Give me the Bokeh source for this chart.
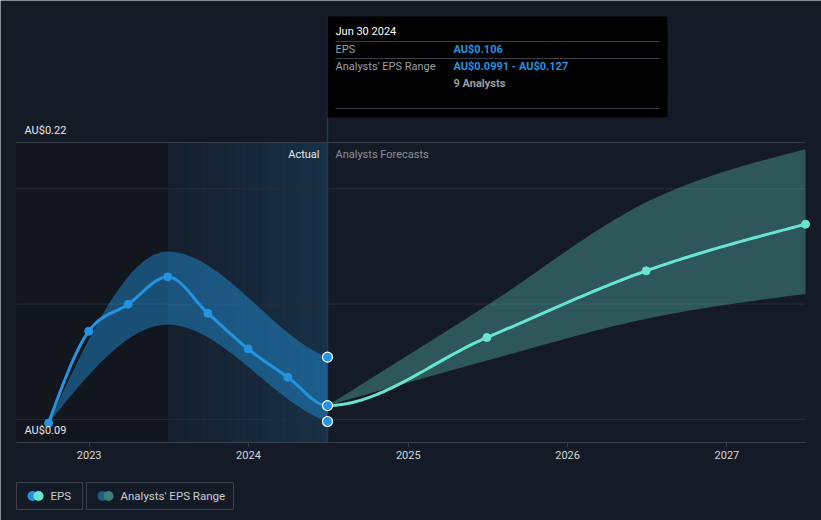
import numpy as np
import pandas as pd
from bokeh.plotting import figure
from bokeh.models import Range1d, DatetimeAxis, FixedTicker, DatetimeTickFormatter, Label, Grid
from bokeh.embed import file_html
from bokeh.resources import INLINE

# ---------------- data ----------------
actual_dates = ["2022-09-30", "2022-12-31", "2023-03-31", "2023-06-30",
                "2023-09-30", "2023-12-31", "2024-03-31", "2024-06-30"]
actual_eps = [0.0984, 0.1382, 0.1499, 0.1618, 0.1460, 0.1306, 0.1183, 0.106]

past_range_dates = ["2022-09-30", "2023-06-30", "2024-06-30"]
past_range_low = [0.0984, 0.1411, 0.0991]
past_range_high = [0.0984, 0.1728, 0.127]

forecast_dates = ["2024-06-30", "2025-06-30", "2026-06-30", "2027-06-30"]
forecast_eps = [0.106, 0.1355, 0.1644, 0.1846]
forecast_low = [0.106, 0.1255, 0.1436, 0.1544]
forecast_high = [0.106, 0.1494, 0.1941, 0.2171]

n_analysts = 9
year_ticks = ["2023", "2024", "2025", "2026", "2027"]
grid_values = [0.10, 0.15, 0.20, 0.22]
y_min, y_max = 0.09, 0.22

# ---------------- style ----------------
BG = "#151b26"
DARK = "#12161e"
BLUE = "#2394e0"
TEAL = "#68e4cf"
GRID = "#272d38"
AXIS = "#3a404b"
FONT = "Roboto"


def ms(dates):
    return np.array(dates, dtype="datetime64[ms]").astype(np.int64).astype(float)


def monotone(xv, yv, n=40, end_scale=None):
    """Monotone cubic (d3 curveMonotoneX style) path through the given points."""
    x = np.asarray(xv, float)
    y = np.asarray(yv, float)
    h = np.diff(x)
    s = np.diff(y) / h
    m = len(x)
    t = np.zeros(m)
    for i in range(1, m - 1):
        if s[i - 1] * s[i] > 0:
            p_ = (s[i - 1] * h[i] + s[i] * h[i - 1]) / (h[i - 1] + h[i])
            t[i] = (np.sign(s[i - 1]) + np.sign(s[i])) * min(abs(s[i - 1]), abs(s[i]), 0.5 * abs(p_))
    if m > 2:
        t[0] = (3 * s[0] - t[1]) / 2
        t[-1] = (3 * s[-1] - t[-2]) / 2
    else:
        t[0] = t[-1] = s[0]
    if end_scale is not None:
        t[-1] = end_scale * s[-1]
    ox, oy = [], []
    for i in range(m - 1):
        dx = h[i] / 3
        px = [x[i], x[i] + dx, x[i + 1] - dx, x[i + 1]]
        py = [y[i], y[i] + dx * t[i], y[i + 1] - dx * t[i + 1], y[i + 1]]
        u = np.linspace(0, 1, n, endpoint=(i == m - 2))
        b = [(1 - u) ** 3, 3 * (1 - u) ** 2 * u, 3 * (1 - u) * u ** 2, u ** 3]
        ox.append(sum(b[k] * px[k] for k in range(4)))
        oy.append(sum(b[k] * py[k] for k in range(4)))
    return np.concatenate(ox), np.concatenate(oy)


# ---------------- geometry (page px -> data) ----------------
a_ms = ms(actual_dates)
f_ms = ms(forecast_dates)
r_ms = ms(past_range_dates)
MS_PER_PX = (f_ms[-1] - f_ms[0]) / 478.0
ANCHOR = f_ms[0]          # page x 327
PX_PER_UNIT = 2307.0      # y scale
W, H = 821, 520


def X(px):
    return ANCHOR + (px - 327) * MS_PER_PX


def Y(py):
    return y_min + (442 - py) / PX_PER_UNIT


p = figure(width=W, height=H, x_range=Range1d(X(0), X(W)), y_range=Range1d(Y(H), Y(0)),
           output_backend="svg", toolbar_location=None, x_axis_location=None, y_axis_location=None,
           min_border=0, min_border_left=0, min_border_right=0, min_border_top=0, min_border_bottom=0,
           background_fill_color=BG, border_fill_color=BG, outline_line_color=None)
p.center = [c for c in p.center if not isinstance(c, Grid)]

x_left, x_right = X(16), X(805)

# background regions
p.quad(left=x_left, right=r_ms[1], bottom=y_min, top=y_max, fill_color=DARK, line_color=None)
N = 24
edges = np.linspace(r_ms[1], r_ms[2], N + 1)
alphas = np.linspace(0.04, 0.18, N)
p.quad(left=edges[:-1], right=edges[1:], bottom=y_min, top=y_max, fill_color=BLUE,
       fill_alpha=alphas, line_color=None)

# grid lines
p.segment(x0=x_left, x1=x_right, y0=grid_values[:-1], y1=grid_values[:-1], line_color=GRID, line_width=1)
p.segment(x0=x_left, x1=x_right, y0=[y_max], y1=[y_max], line_color=AXIS, line_width=1)

# vertical "today" line
p.segment(x0=[f_ms[0]], x1=[f_ms[0]], y0=[y_min], y1=[Y(16)], line_color="#1f3a52", line_width=1.5)

# bands
bx, bh = monotone(r_ms, past_range_high, end_scale=0.55)
_, bl = monotone(r_ms, past_range_low, end_scale=0.55)
p.varea(x=bx, y1=bl, y2=bh, fill_color=BLUE, fill_alpha=0.45)

fx, fh = monotone(f_ms, forecast_high)
_, fl = monotone(f_ms, forecast_low)
p.varea(x=fx, y1=fl, y2=fh, fill_color=TEAL, fill_alpha=0.3)

# EPS line: one continuous curve through actual + forecast, split at the last actual
all_x = np.concatenate([a_ms, f_ms[1:]])
all_y = np.concatenate([actual_eps, forecast_eps[1:]])
cx, cy = monotone(all_x, all_y)
cut = a_ms[-1]
p.line(cx[cx <= cut], cy[cx <= cut], line_color=BLUE, line_width=3)
p.line(cx[cx >= cut], cy[cx >= cut], line_color=TEAL, line_width=3)

# points
p.scatter(a_ms[:-1], actual_eps[:-1], size=8, fill_color=BLUE, line_color=BLUE)
p.scatter(f_ms[1:], forecast_eps[1:], size=8, fill_color=TEAL, line_color=TEAL)
p.scatter([r_ms[-1]] * 3, [past_range_high[-1], actual_eps[-1], past_range_low[-1]], size=10,
          fill_color=BLUE, line_color="white", line_width=1.2)

# x axis
xaxis = DatetimeAxis(fixed_location=y_min, bounds=(x_left, x_right),
                     ticker=FixedTicker(ticks=list(ms([f"{y}-01-01" for y in year_ticks]))),
                     formatter=DatetimeTickFormatter(years="%Y", months="%Y", days="%Y", hours="%Y",
                                                     minutes="%Y", seconds="%Y", milliseconds="%Y",
                                                     microseconds="%Y", minsec="%Y", hourmin="%Y"),
                     axis_line_color=AXIS, major_tick_line_color=AXIS, minor_tick_line_color=None,
                     major_tick_in=0, major_tick_out=4, major_label_standoff=4,
                     major_label_text_color="#d6d8db", major_label_text_font_size="11px",
                     major_label_text_font=FONT)
p.add_layout(xaxis, "below")


def lab(text, px, py, color, align="left", bold=False, size="11px"):
    p.add_layout(Label(x=X(px), y=Y(py), text=text, text_color=color, text_font=FONT,
                       text_font_size=size, text_align=align, text_baseline="middle",
                       text_font_style="bold" if bold else "normal"))


# y range labels
lab(f"AU${y_max:.2f}", 24, 130, "#e6e8ea")
lab(f"AU${y_min:.2f}", 24, 430, "#e6e8ea")

# region labels
lab("Actual", 319, 154, "#e6e8ea", align="right")
lab("Analysts Forecasts", 335, 154, "#8b9099")

# tooltip
p.quad(left=X(327), right=X(667), top=Y(16), bottom=Y(117), fill_color="black", line_color=None)
p.segment(x0=X(335), x1=X(659), y0=[Y(41), Y(58), Y(108)], y1=[Y(41), Y(58), Y(108)],
          line_color="#3a3f47", line_width=1)
d = pd.Timestamp(actual_dates[-1])
lab(f"{d:%b} {d.day} {d.year}", 335, 31, "#ffffff")
lab("EPS", 335, 49, "#9a9fa6")
lab(f"AU${actual_eps[-1]:g}", 453, 49, BLUE, bold=True)
lab("Analysts' EPS Range", 335, 66, "#9a9fa6")
lab(f"AU${past_range_low[-1]:g} - AU${past_range_high[-1]:g}", 453, 66, BLUE, bold=True)
lab(f"{n_analysts} Analysts", 453, 83, "#9a9fa6", bold=True)

# legend
p.quad(left=[X(16), X(86)], right=[X(82), X(233)], top=Y(482), bottom=Y(509),
       fill_color=None, line_color=AXIS, line_width=1)
p.scatter([X(32), X(102)], [Y(495.5)] * 2, size=10, fill_color=[BLUE, "#1f5a8a"], line_color=None)
p.scatter([X(38), X(108)], [Y(495.5)] * 2, size=10, fill_color=[TEAL, "#3d7f79"], line_color=None)
lab("EPS", 50, 495.5, "#c9cdd2", size="11.5px")
lab("Analysts' EPS Range", 120, 495.5, "#c9cdd2", size="11.5px")

html = file_html(p, INLINE)
html = html.replace("<body>", f'<body style="background-color:{BG};">', 1)
open("out.html", "w").write(html)
